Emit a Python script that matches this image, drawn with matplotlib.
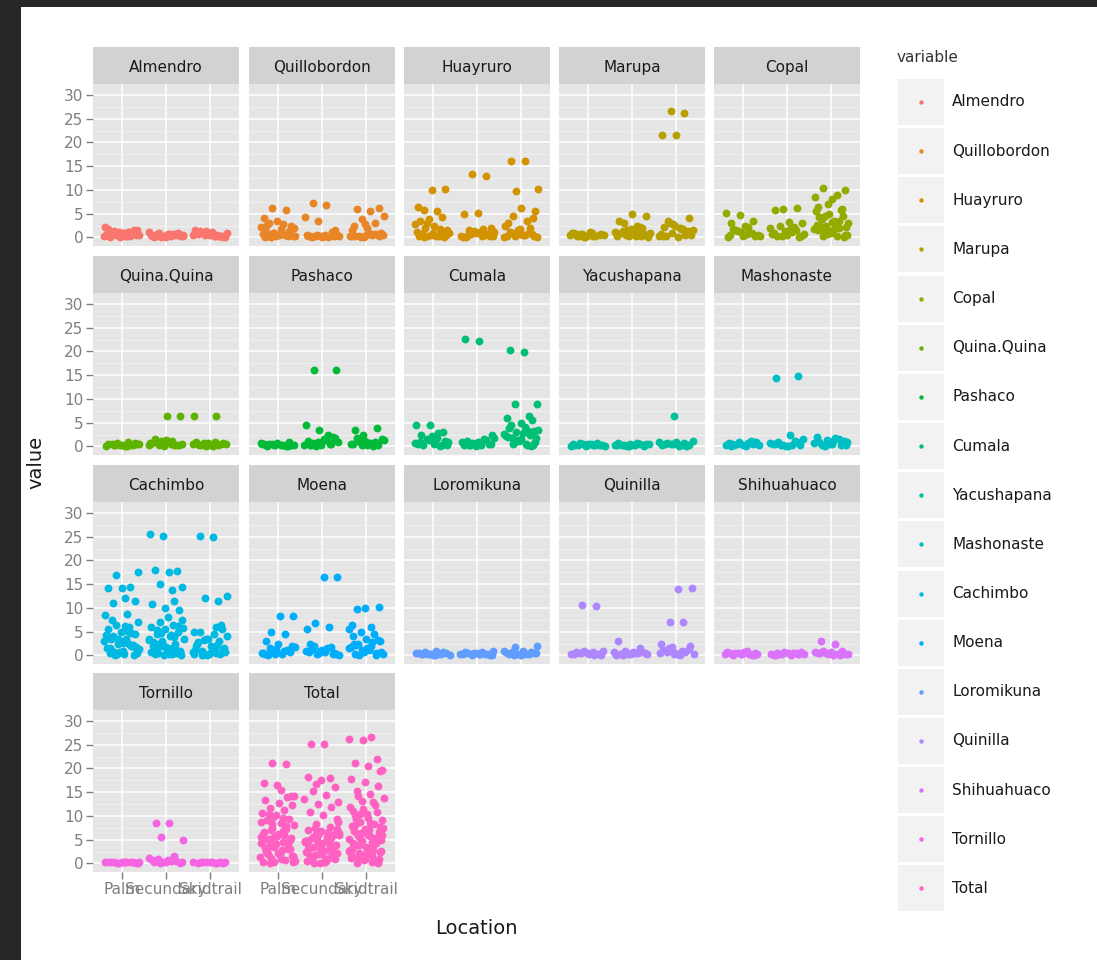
"""
Faceted jitter plot of tree counts per species and location
"""
import numpy as np
import matplotlib.pyplot as plt
from matplotlib.patches import Rectangle

W, H = 1097, 960

species = ["Almendro", "Quillobordon", "Huayruro", "Marupa", "Copal",
           "Quina.Quina", "Pashaco", "Cumala", "Yacushapana", "Mashonaste",
           "Cachimbo", "Moena", "Loromikuna", "Quinilla", "Shihuahuaco",
           "Tornillo", "Total"]
locations = ["Palm", "Secundary", "Skidtrail"]
colors = ["#F8766D", "#E88526", "#D39200", "#B79F00", "#93AA00", "#5EB300",
          "#00BA38", "#00BF74", "#00C19F", "#00BFC4", "#00B9E3", "#00ADFA",
          "#619CFF", "#AE87FF", "#DB72FB", "#F564E3", "#FF61C3"]

# one list of values per location (Palm, Secundary, Skidtrail)
almendro = [
    [0.2, 0.6, 1.0, 1.4, 0.3, 0.8, 1.2, 0.5, 1.6, 0.9, 0.1, 0.7, 1.1, 2.2, 0.4, 1.3, 0.6, 0.9,
     1.8, 0.2, 1.0, 0.5, 0.3, 0.8, 1.5, 0.0, 0.6, 1.2],
    [0.1, 0.4, 0.7, 0.3, 0.9, 0.2, 0.6, 0.5, 1.0, 0.3, 0.8, 0.1, 0.6, 0.4, 1.1, 0.2, 0.7, 0.5,
     0.0, 0.4, 0.8, 0.2, 0.6],
    [0.2, 0.6, 1.0, 0.4, 1.3, 0.3, 0.8, 1.5, 0.5, 0.9, 0.1, 1.1, 0.7, 0.4, 1.4, 0.6, 0.2, 1.0,
     0.0, 0.5, 0.9, 0.3]]
quillobordon = [
    [0.1, 0.5, 0.9, 0.3, 0.7, 0.2, 1.0, 0.4, 0.8, 0.6, 0.0, 0.3, 0.6, 1.2, 0.2, 0.9,
     2.2, 2.8, 3.0, 2.5, 3.5, 4.0, 5.8, 6.2, 2.0, 1.8, 2.6, 1.4],
    [0.1, 0.4, 0.2, 0.6, 0.3, 0.5, 0.1, 0.4, 0.2, 0.6, 0.0, 0.3, 0.5, 0.2, 0.4,
     1.2, 3.5, 4.2, 6.8, 7.2, 1.5],
    [0.2, 0.6, 0.3, 0.8, 0.1, 0.5, 0.9, 0.4, 0.7, 0.0, 0.3, 0.6, 0.2, 1.0,
     2.0, 2.5, 3.0, 3.8, 4.5, 5.5, 6.0, 6.3, 2.8, 1.5]]
huayruro = [
    [0.1, 0.5, 0.9, 0.3, 0.7, 0.2, 1.0, 0.4, 0.8, 0.0, 0.6, 1.2, 0.3, 2.0,
     1.5, 2.5, 3.5, 4.2, 3.8, 2.8, 5.5, 5.8, 10.2, 10.0, 6.5, 1.8, 3.0],
    [0.2, 0.6, 0.3, 0.9, 0.1, 0.5, 0.8, 0.4, 1.1, 0.0, 0.7, 1.4, 0.3, 1.8,
     1.5, 2.0, 5.2, 5.0, 13.0, 13.3, 1.2],
    [0.1, 0.5, 0.9, 0.3, 0.7, 0.2, 1.0, 0.4, 0.0, 0.6, 1.2, 0.8,
     1.5, 2.5, 3.5, 4.5, 5.5, 6.2, 3.0, 2.0, 9.8, 10.2, 16.0, 16.1, 4.0, 1.8]]
marupa = [
    [0.1, 0.5, 0.9, 0.3, 0.7, 0.2, 1.0, 0.4, 0.8, 0.6, 1.2, 0.3, 0.5, 0.0, 0.9, 0.2, 0.7],
    [0.2, 0.6, 1.0, 0.4, 1.4, 0.8, 1.8, 0.3, 1.2, 0.5, 0.0, 1.6, 0.9, 2.0, 0.4, 1.1,
     2.5, 3.0, 4.5, 5.0, 3.5, 2.2, 1.6],
    [0.2, 0.6, 1.0, 1.5, 2.0, 0.4, 1.3, 2.5, 0.8, 1.8, 3.0, 0.5, 0.0, 2.2, 1.1, 2.8, 0.3,
     1.7, 3.5, 4.0, 21.5, 21.6, 26.2, 26.6]]
copal = [
    [0.2, 0.6, 1.0, 1.4, 0.4, 0.8, 1.8, 0.3, 1.2, 0.0, 0.9, 1.6, 0.5,
     2.5, 3.0, 3.5, 4.8, 5.2, 2.2, 1.6],
    [0.2, 0.6, 1.0, 1.5, 0.4, 0.8, 1.8, 0.3, 0.0, 1.3, 0.7, 2.2,
     2.5, 3.0, 3.2, 5.8, 6.2, 6.0, 2.0, 1.2],
    [0.2, 0.6, 1.0, 1.5, 2.0, 2.5, 3.0, 3.5, 4.0, 4.5, 5.0, 5.5, 0.4, 1.2, 2.2, 3.2, 4.2, 5.8,
     0.8, 1.8, 2.8, 3.8, 0.0, 1.4, 2.6, 3.4, 4.6, 0.5, 1.7, 2.4,
     6.0, 7.0, 8.5, 9.0, 10.5, 10.0, 8.0, 6.5]]
quina_quina = [
    [0.1, 0.4, 0.7, 0.2, 0.6, 0.3, 0.8, 0.5, 0.1, 0.6, 0.4, 0.2, 0.0, 0.9, 0.3, 0.5],
    [0.2, 0.6, 1.0, 0.4, 1.4, 0.8, 0.3, 1.2, 0.5, 0.9, 1.5, 0.2, 0.0, 0.7, 1.1, 0.4,
     6.5, 6.5],
    [0.1, 0.5, 0.9, 0.3, 0.7, 0.2, 1.0, 0.4, 0.8, 0.6, 0.0, 0.3, 0.5, 0.7,
     6.5, 6.5]]
pashaco = [
    [0.1, 0.4, 0.7, 0.2, 0.6, 0.3, 0.8, 0.5, 0.1, 0.6, 0.4, 0.2, 0.0, 0.9, 0.3, 0.5],
    [0.2, 0.6, 1.0, 0.4, 1.4, 0.8, 1.8, 0.3, 1.2, 0.5, 0.0, 0.9, 1.6, 0.3,
     2.0, 3.5, 4.5, 2.5, 16.0, 16.1],
    [0.2, 0.6, 1.0, 0.4, 1.4, 0.8, 1.8, 0.3, 1.2, 0.5, 0.0, 0.9, 1.6, 0.7,
     3.5, 3.8, 2.5]]
cumala = [
    [0.2, 0.6, 1.0, 0.4, 1.4, 0.8, 1.8, 0.3, 1.2, 2.2, 0.5, 0.0, 1.6, 0.9, 1.1,
     2.5, 3.0, 4.5, 4.5, 2.8],
    [0.2, 0.6, 1.0, 0.4, 1.4, 0.8, 1.8, 0.3, 1.2, 0.5, 0.0, 0.9, 1.6, 0.4,
     2.5, 22.2, 22.6],
    [0.2, 0.6, 1.0, 1.5, 2.0, 2.5, 3.0, 3.5, 4.0, 4.5, 0.4, 1.2, 2.2, 3.2, 0.8, 1.8, 2.8, 3.8,
     0.0, 1.4, 2.6, 0.5, 1.7, 3.3, 5.0, 6.0, 6.5, 9.0, 9.0, 19.8, 20.2, 5.5]]
yacushapana = [
    [0.1, 0.4, 0.7, 0.2, 0.6, 0.3, 0.8, 0.5, 0.1, 0.6, 0.4, 0.2, 0.0, 0.5, 0.3],
    [0.1, 0.4, 0.7, 0.2, 0.6, 0.3, 0.8, 0.5, 0.1, 0.6, 0.4, 0.2, 0.0, 0.5, 0.3],
    [0.1, 0.5, 0.9, 0.3, 0.7, 0.2, 1.0, 0.4, 0.8, 0.6, 1.2, 0.0, 0.5, 0.3, 6.5]]
mashonaste = [
    [0.1, 0.5, 0.9, 0.3, 0.7, 0.2, 1.0, 0.4, 0.8, 1.2, 0.6, 0.2, 0.0, 0.5, 0.9],
    [0.1, 0.5, 0.9, 0.3, 0.7, 0.2, 1.0, 0.4, 0.0, 0.6, 1.2, 0.3,
     1.5, 2.5, 14.5, 14.8],
    [0.2, 0.6, 1.0, 0.4, 1.4, 0.8, 1.8, 0.3, 1.2, 0.5, 2.0, 1.6, 0.0, 0.9, 1.1]]
cachimbo = [
    [0.2, 0.6, 1.0, 1.5, 2.0, 2.5, 3.0, 3.5, 4.0, 4.5, 5.0, 5.5, 6.0, 6.5, 7.0, 0.4, 1.2, 2.2,
     3.2, 4.2, 5.2, 0.8, 1.8, 2.8, 3.8, 4.8, 0.3, 1.4, 6.2, 7.4, 0.0, 0.7, 1.6, 2.4, 0.1,
     1.1, 2.6, 0.5, 1.9, 3.4, 8.5, 8.8, 11.0, 11.5, 14.2, 14.3, 14.5, 17.0, 17.5, 12.0, 3.5],
    [0.2, 0.6, 1.0, 1.5, 2.0, 2.5, 3.0, 3.5, 4.0, 4.5, 5.0, 5.5, 6.0, 6.5, 7.0, 7.5, 8.0, 0.4,
     1.2, 2.2, 3.2, 4.2, 5.2, 0.8, 1.8, 2.8, 3.8, 4.8, 5.8, 0.3, 1.4, 6.2, 0.0, 0.7, 1.6,
     2.4, 0.1, 1.1, 2.6, 0.5, 1.9, 3.4, 4.4, 5.4, 9.5, 10.0, 10.8, 11.5, 15.0, 14.5, 17.5,
     18.0, 17.8, 25.2, 25.6, 13.8],
    [0.2, 0.6, 1.0, 1.5, 2.0, 2.5, 3.0, 3.5, 4.0, 4.5, 5.0, 5.5, 0.4, 1.2, 2.2, 3.2, 0.8, 1.8,
     2.8, 0.3, 0.0, 0.7, 1.6, 0.1, 1.1, 0.5, 1.9, 11.5, 12.0, 12.5, 25.0, 25.1, 6.5, 3.5,
     5.0, 6.0]]
moena = [
    [0.2, 0.6, 1.0, 1.5, 2.0, 2.5, 0.4, 1.2, 0.8, 1.8, 0.3, 0.0, 0.7, 1.4, 0.5,
     4.5, 5.0, 8.2, 8.2, 3.0],
    [0.2, 0.6, 1.0, 1.5, 2.0, 0.4, 1.2, 0.8, 1.8, 0.3, 0.0, 0.7, 1.4, 0.5, 0.9,
     5.5, 6.0, 6.8, 16.5, 16.5, 2.5],
    [0.2, 0.6, 1.0, 1.5, 2.0, 2.5, 3.0, 3.5, 4.0, 4.5, 5.0, 0.4, 1.2, 2.2, 3.2, 0.8, 1.8, 2.8,
     0.0, 0.7, 1.6, 2.4, 0.1, 1.1, 5.5, 6.0, 9.8, 10.3, 10.0, 6.5]]
loromikuna = [
    [0.1, 0.4, 0.7, 0.2, 0.6, 0.3, 0.8, 0.5, 0.1, 0.6, 0.4, 0.2, 0.0, 0.9, 0.3],
    [0.1, 0.4, 0.7, 0.2, 0.6, 0.3, 0.8, 0.5, 0.1, 0.6, 0.4, 0.2, 0.0, 0.9, 0.3],
    [0.1, 0.5, 0.9, 0.3, 0.7, 0.2, 1.0, 0.4, 0.8, 0.6, 0.0, 0.5, 0.3, 1.8, 2.0]]
quinilla = [
    [0.1, 0.5, 0.9, 0.3, 0.7, 0.2, 1.0, 0.4, 0.8, 0.6, 0.0, 0.5, 0.3, 10.5, 10.6],
    [0.1, 0.5, 0.9, 0.3, 0.7, 0.2, 1.0, 0.4, 0.8, 0.6, 0.0, 0.5, 0.3, 3.0, 1.5],
    [0.2, 0.6, 1.0, 1.5, 2.0, 0.4, 1.2, 0.8, 1.8, 0.3, 0.0, 0.7, 1.4, 0.5,
     2.5, 7.0, 7.0, 14.3, 14.0]]
shihuahuaco = [
    [0.1, 0.4, 0.7, 0.2, 0.6, 0.3, 0.8, 0.5, 0.1, 0.6, 0.4, 0.9, 0.0, 0.5, 0.3],
    [0.1, 0.4, 0.7, 0.2, 0.6, 0.3, 0.8, 0.5, 0.1, 0.6, 0.4, 0.2, 0.0, 0.5, 0.3],
    [0.1, 0.5, 0.9, 0.3, 0.7, 0.2, 1.0, 0.4, 0.8, 0.6, 0.0, 0.5, 0.3, 2.5, 3.0]]
tornillo = [
    [0.1, 0.3, 0.2, 0.4, 0.1, 0.3, 0.2, 0.4, 0.1, 0.3, 0.2, 0.4, 0.0, 0.3, 0.2],
    [0.1, 0.4, 0.7, 0.2, 0.6, 0.3, 1.2, 0.5, 0.9, 0.0, 0.4, 0.8,
     1.5, 5.5, 5.0, 8.5, 8.5],
    [0.1, 0.3, 0.2, 0.4, 0.1, 0.3, 0.2, 0.4, 0.1, 0.3, 0.0, 0.2]]
total = [
    [0.2, 0.7, 1.1, 1.6, 2.1, 2.4, 3.1, 3.4, 4.2, 4.6, 5.1, 5.3, 6.1, 6.6, 7.2, 7.4, 8.1, 8.6,
     9.2, 9.4, 10.1, 10.7, 11.2, 11.6, 12.3, 12.8, 13.4, 13.9, 0.4, 1.3, 2.8, 3.7, 4.9,
     5.8, 6.3, 7.8, 8.3, 0.9, 1.8, 2.6, 3.9, 4.4, 5.6, 6.9, 0.1, 1.5, 2.2, 3.3, 7.9, 9.8,
     0.6, 1.0, 2.0, 3.0, 4.0, 5.0, 6.0, 7.0, 0.3, 1.9, 2.9, 4.5, 5.5, 8.8, 9.6, 10.4,
     14.3, 16.5, 17.0, 21.0, 21.2, 14.2, 15.5],
    [0.1, 0.6, 1.2, 1.7, 2.2, 2.6, 3.2, 3.6, 4.1, 4.7, 5.2, 5.6, 6.3, 6.8, 7.1, 7.7, 8.2, 8.8,
     0.3, 0.9, 1.4, 1.9, 2.4, 2.9, 3.4, 3.9, 4.4, 4.9, 5.4, 5.9, 6.4, 0.5, 1.1, 2.1, 3.1,
     4.3, 5.3, 6.1, 7.3, 0.2, 1.6, 2.7, 3.8, 4.6, 5.7, 0.0, 1.0, 2.0, 3.0, 4.0, 5.0, 6.0,
     0.7, 1.5, 2.5, 3.5, 4.8, 6.6, 7.5, 9.3, 10.1, 10.9, 11.8, 12.6, 13.5,
     14.4, 15.2, 16.1, 17.6, 18.1, 17.9, 16.8, 13.0, 25.1, 25.2],
    [0.2, 0.7, 1.1, 1.6, 2.2, 2.7, 3.1, 3.6, 4.2, 4.8, 5.1, 5.7, 6.2, 6.6, 7.2, 7.8, 8.3, 8.7,
     9.1, 9.6, 10.2, 10.8, 11.4, 11.9, 0.4, 1.3, 2.4, 3.4, 4.4, 5.3, 6.4, 7.4, 8.6, 9.3,
     0.1, 0.9, 1.9, 2.9, 3.9, 4.9, 5.9, 6.9, 0.6, 1.4, 2.6, 3.3, 0.0, 1.0, 2.0, 3.0, 4.0,
     5.0, 6.0, 7.0, 8.0, 0.3, 1.7, 2.8, 4.6, 5.5, 7.6, 10.5, 11.1,
     12.4, 13.1, 13.8, 14.6, 15.3, 16.2, 17.1, 17.8, 12.9, 10.5, 19.6, 20.5, 21.2, 22.0,
     25.9, 26.3, 26.6, 14.2, 19.4]]

data = [almendro, quillobordon, huayruro, marupa, copal, quina_quina, pashaco,
        cumala, yacushapana, mashonaste, cachimbo, moena, loromikuna, quinilla,
        shihuahuaco, tornillo, total]


def px_rect(x, y, w, h):
    return [x / W, 1 - (y + h) / H, w / W, h / H]


def jitter(n, seed):
    # deterministic spread of points across the jitter width
    return ((np.arange(n) * 0.618034 + seed) % 1.0 - 0.5) * 0.8


fig = plt.figure(figsize=(W / 100, H / 100), dpi=100)
plt.rcParams['font.family'] = ['DejaVu Sans']

col_left = [93, 249, 404, 559, 714]
row_top = [47, 256, 465, 673]
panel_w, strip_h, panel_h = 146, 37, 162
grey50 = "#7F7F7F"

for k, name in enumerate(species):
    r, c = divmod(k, 5)
    x0, y0 = col_left[c], row_top[r]

    sax = fig.add_axes(px_rect(x0, y0, panel_w, strip_h))
    sax.set_facecolor("#D2D2D2")
    sax.set_xticks([])
    sax.set_yticks([])
    for sp in sax.spines.values():
        sp.set_visible(False)
    sax.text(0.5, 0.45, name, ha="center", va="center", fontsize=11,
             color="#1A1A1A", transform=sax.transAxes)

    ax = fig.add_axes(px_rect(x0, y0 + strip_h, panel_w, panel_h))
    ax.set_facecolor("#E5E5E5")
    for j, ys in enumerate(data[k]):
        xs = j + 1 + jitter(len(ys), 0.13 * k + 0.37 * j)
        ax.scatter(xs, ys, s=32, color=colors[k], linewidths=0, zorder=3)
    ax.set_xlim(0.35, 3.65)
    ax.set_ylim(-1.8, 32.3)
    ax.set_xticks([1, 2, 3])
    ax.set_yticks(range(0, 31, 5))
    ax.set_yticks(np.arange(2.5, 31, 5), minor=True)
    ax.grid(which="major", color="white", linewidth=1.1)
    ax.grid(which="minor", axis="y", color="#F2F2F2", linewidth=0.6)
    ax.set_axisbelow(True)
    for sp in ax.spines.values():
        sp.set_visible(False)
    ax.tick_params(which="minor", length=0)
    ax.tick_params(which="major", direction="out", length=5, width=1,
                   color=grey50, labelcolor=grey50, labelsize=11, pad=2)
    if c == 0:
        ax.set_yticklabels([str(v) for v in range(0, 31, 5)])
    else:
        ax.tick_params(axis="y", length=0, labelleft=False)
    if r == 3:
        ax.set_xticklabels(locations)
    else:
        ax.tick_params(axis="x", length=0, labelbottom=False)

# axis titles
fig.text(476 / W, 1 - 928 / H, "Location", ha="center", va="center", fontsize=14, color="#1A1A1A")
fig.text(36 / W, 1 - 462 / H, "value", ha="center", va="center", rotation=90, fontsize=14, color="#1A1A1A")

# legend and screenshot frame drawn in pixel space
over = fig.add_axes([0, 0, 1, 1], facecolor="none")
over.set_xlim(0, W)
over.set_ylim(H, 0)
over.axis("off")
over.text(897, 58, "variable", ha="left", va="center", fontsize=11, color="#333333")
key_top, key_step = 79, 49.15
for k, name in enumerate(species):
    ky = key_top + k * key_step
    over.add_patch(Rectangle((898, ky), 46, 46, facecolor="#F2F2F2", edgecolor="none"))
    over.scatter([921], [ky + 23], s=10, color=colors[k], linewidths=0)
    over.text(952, ky + 23, name, ha="left", va="center", fontsize=11, color="#1A1A1A")

over.add_patch(Rectangle((0, 0), W, 7, facecolor="#272727", edgecolor="none"))
over.add_patch(Rectangle((0, 0), 21, H, facecolor="#272727", edgecolor="none"))

fig.savefig("out.png", dpi=100)
